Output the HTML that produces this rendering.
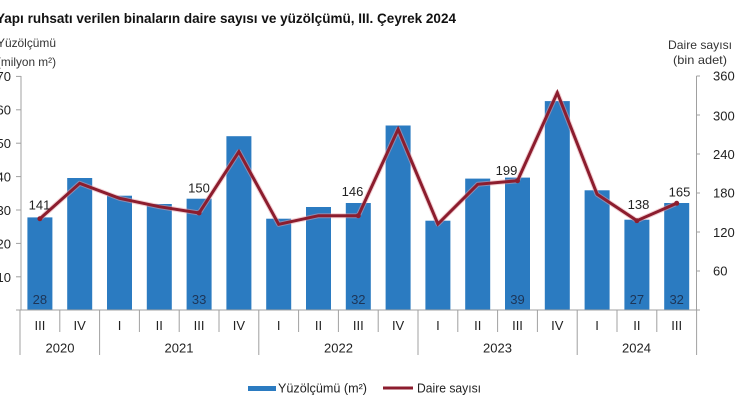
<!DOCTYPE html>
<html><head><meta charset="utf-8"><style>
html,body{margin:0;padding:0;background:#fff;}
svg{display:block;}
text{font-family:"Liberation Sans",Arial,sans-serif;}
</style></head><body>
<svg width="740" height="420" viewBox="0 0 740 420" xmlns="http://www.w3.org/2000/svg">
<rect width="740" height="420" fill="#fff"/>
<!-- Title -->
<text x="-4" y="23" font-size="14" font-weight="bold" fill="#111" textLength="460" lengthAdjust="spacingAndGlyphs">Yapı ruhsatı verilen binaların daire sayısı ve yüzölçümü, III. Çeyrek 2024</text>
<!-- Axis titles -->
<text x="-3" y="47" font-size="12" fill="#333" textLength="59" lengthAdjust="spacingAndGlyphs">Yüzölçümü</text>
<text x="-3" y="66" font-size="12" fill="#333" textLength="59" lengthAdjust="spacingAndGlyphs">(milyon m²)</text>
<text x="668" y="49" font-size="12" fill="#333" textLength="64" lengthAdjust="spacingAndGlyphs">Daire sayısı</text>
<text x="673" y="64" font-size="12" fill="#333" textLength="54" lengthAdjust="spacingAndGlyphs">(bin adet)</text>
<!-- Left axis -->
<g stroke="#a0a0a0" stroke-width="1">
<line x1="21" y1="76" x2="21" y2="310"/>
<line x1="16" y1="76.4" x2="21" y2="76.4"/>
<line x1="16" y1="109.8" x2="21" y2="109.8"/>
<line x1="16" y1="143.2" x2="21" y2="143.2"/>
<line x1="16" y1="176.6" x2="21" y2="176.6"/>
<line x1="16" y1="210" x2="21" y2="210"/>
<line x1="16" y1="243.4" x2="21" y2="243.4"/>
<line x1="16" y1="276.8" x2="21" y2="276.8"/>
<!-- right axis -->
<line x1="696.5" y1="76" x2="696.5" y2="310"/>
<line x1="696.5" y1="76" x2="700" y2="76"/>
<line x1="696.5" y1="115" x2="700" y2="115"/>
<line x1="696.5" y1="154" x2="700" y2="154"/>
<line x1="696.5" y1="193" x2="700" y2="193"/>
<line x1="696.5" y1="232" x2="700" y2="232"/>
<line x1="696.5" y1="271" x2="700" y2="271"/>
</g>
<g font-size="13" fill="#222" text-anchor="end">
<text x="11" y="81">70</text>
<text x="11" y="114.5">60</text>
<text x="11" y="148">50</text>
<text x="11" y="181.5">40</text>
<text x="11" y="215">30</text>
<text x="11" y="248.5">20</text>
<text x="11" y="282">10</text>
</g>
<g font-size="13" fill="#222">
<text x="713" y="80.5">360</text>
<text x="713" y="120.5">300</text>
<text x="713" y="159">240</text>
<text x="713" y="197.5">180</text>
<text x="713" y="237">120</text>
<text x="713" y="275.5">60</text>
</g>
<!-- Bars -->
<g fill="#2b7bc1">
<rect x="27.4" y="217.4" width="25" height="92.6"/>
<rect x="67.2" y="178" width="25" height="132"/>
<rect x="107" y="195.7" width="25" height="114.3"/>
<rect x="146.8" y="204" width="25" height="106"/>
<rect x="186.6" y="198.7" width="25" height="111.3"/>
<rect x="226.4" y="136.2" width="25" height="173.8"/>
<rect x="266.2" y="218.7" width="25" height="91.3"/>
<rect x="306" y="207" width="25" height="103"/>
<rect x="345.8" y="203" width="25" height="107"/>
<rect x="385.6" y="125.5" width="25" height="184.5"/>
<rect x="425.4" y="220.7" width="25" height="89.3"/>
<rect x="465.2" y="178.6" width="25" height="131.4"/>
<rect x="505" y="177.6" width="25" height="132.4"/>
<rect x="544.8" y="101.1" width="25" height="208.9"/>
<rect x="584.6" y="190.3" width="25" height="119.7"/>
<rect x="624.4" y="219.7" width="25" height="90.3"/>
<rect x="664.2" y="203" width="25" height="107"/>
</g>
<!-- Bar labels -->
<g font-size="13" fill="#1d3557" text-anchor="middle">
<text x="39.9" y="304">28</text>
<text x="199.1" y="304">33</text>
<text x="358.3" y="304">32</text>
<text x="517.5" y="304">39</text>
<text x="636.9" y="304">27</text>
<text x="676.7" y="304">32</text>
</g>
<!-- Line -->
<polyline fill="none" stroke="#e8a0a8" stroke-width="5" stroke-linejoin="round" opacity="0.5" points="39.9,218.7 79.7,183.3 119.5,198.3 159.3,206.7 199.1,213 238.9,151.7 278.7,224.3 318.5,215.7 358.3,215.7 398.1,129.3 437.9,224 477.7,184.3 517.5,180.7 557.3,92.7 597.1,194.3 636.9,220.7 676.7,203.3"/>
<polyline fill="none" stroke="#8c1d2e" stroke-width="3" stroke-linejoin="miter" points="39.9,218.7 79.7,183.3 119.5,198.3 159.3,206.7 199.1,213 238.9,151.7 278.7,224.3 318.5,215.7 358.3,215.7 398.1,129.3 437.9,224 477.7,184.3 517.5,180.7 557.3,92.7 597.1,194.3 636.9,220.7 676.7,203.3"/>
<g fill="#8c1d2e">
<circle cx="39.9" cy="218.7" r="2.5"/><circle cx="199.1" cy="213" r="2.5"/><circle cx="358.3" cy="215.7" r="2.5"/>
<circle cx="517.5" cy="180.7" r="2.5"/><circle cx="636.9" cy="220.7" r="2.5"/><circle cx="676.7" cy="203.3" r="2.5"/>
</g>
<!-- Line labels -->
<g font-size="13" fill="#222" text-anchor="middle">
<text x="39.5" y="209.5">141</text>
<text x="199" y="192.5">150</text>
<text x="352.5" y="196">146</text>
<text x="506.5" y="175">199</text>
<text x="638.5" y="209">138</text>
<text x="679.5" y="196.5">165</text>
</g>
<!-- X axis -->
<g stroke="#a0a0a0" stroke-width="1">
<line x1="16" y1="310" x2="700" y2="310"/>
<line x1="20" y1="310" x2="20" y2="355"/>
<line x1="59.8" y1="310" x2="59.8" y2="332"/>
<line x1="99.6" y1="310" x2="99.6" y2="355"/>
<line x1="139.4" y1="310" x2="139.4" y2="332"/>
<line x1="179.2" y1="310" x2="179.2" y2="332"/>
<line x1="219" y1="310" x2="219" y2="332"/>
<line x1="258.8" y1="310" x2="258.8" y2="355"/>
<line x1="298.6" y1="310" x2="298.6" y2="332"/>
<line x1="338.4" y1="310" x2="338.4" y2="332"/>
<line x1="378.2" y1="310" x2="378.2" y2="332"/>
<line x1="418" y1="310" x2="418" y2="355"/>
<line x1="457.8" y1="310" x2="457.8" y2="332"/>
<line x1="497.6" y1="310" x2="497.6" y2="332"/>
<line x1="537.4" y1="310" x2="537.4" y2="332"/>
<line x1="577.2" y1="310" x2="577.2" y2="355"/>
<line x1="617" y1="310" x2="617" y2="332"/>
<line x1="656.8" y1="310" x2="656.8" y2="332"/>
<line x1="696.6" y1="310" x2="696.6" y2="355"/>
</g>
<g font-size="13" fill="#222" text-anchor="middle">
<text x="39.9" y="330">III</text>
<text x="79.7" y="330">IV</text>
<text x="119.5" y="330">I</text>
<text x="159.3" y="330">II</text>
<text x="199.1" y="330">III</text>
<text x="238.9" y="330">IV</text>
<text x="278.7" y="330">I</text>
<text x="318.5" y="330">II</text>
<text x="358.3" y="330">III</text>
<text x="398.1" y="330">IV</text>
<text x="437.9" y="330">I</text>
<text x="477.7" y="330">II</text>
<text x="517.5" y="330">III</text>
<text x="557.3" y="330">IV</text>
<text x="597.1" y="330">I</text>
<text x="636.9" y="330">II</text>
<text x="676.7" y="330">III</text>
<text x="60" y="352.5">2020</text>
<text x="179" y="352.5">2021</text>
<text x="338.5" y="352.5">2022</text>
<text x="497.5" y="352.5">2023</text>
<text x="636.5" y="352.5">2024</text>
</g>
<!-- Legend -->
<rect x="248" y="386" width="28" height="5" fill="#2b7bc1"/>
<text x="278" y="392.5" font-size="12.5" fill="#222" textLength="89" lengthAdjust="spacingAndGlyphs">Yüzölçümü (m²)</text>
<line x1="383" y1="388" x2="413" y2="388" stroke="#8c1d2e" stroke-width="3"/>
<text x="417" y="392.5" font-size="12.5" fill="#222" textLength="64" lengthAdjust="spacingAndGlyphs">Daire sayısı</text>
</svg>
</body></html>
